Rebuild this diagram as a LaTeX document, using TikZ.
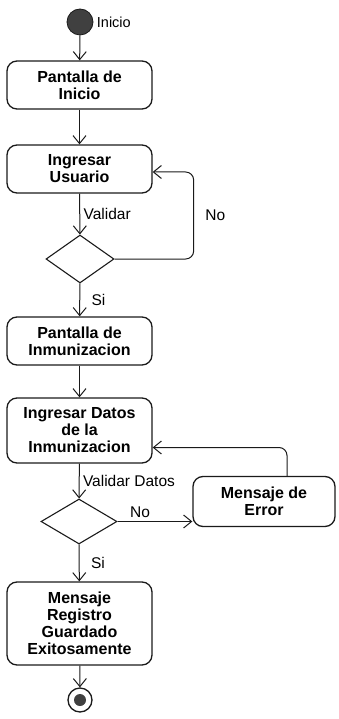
\documentclass[tikz,border=0pt]{standalone}
\usepackage{fontspec}
\setmainfont{Liberation Sans}
\usetikzlibrary{arrows.meta,positioning,calc,shapes.geometric}
\definecolor{lineC}  {HTML}{1A1A1A}
\definecolor{startC} {HTML}{404040}
\tikzset{
  >={Straight Barb[length=8pt,width=13pt,line width=1pt]},
  actBox/.style={draw=lineC,line width=1.3pt,rounded corners=10pt,
    align=center,font=\fontsize{16}{17}\selectfont\bfseries,
    minimum width=145pt,inner sep=1pt},
  decision/.style={draw=lineC,diamond,line width=1.1pt,inner sep=0pt},
  flowLbl/.style={font=\fontsize{15.5}{17}\selectfont},
  flow/.style={->,draw=lineC,line width=1pt},
}

\begin{document}
\begin{tikzpicture}[x=1pt,y=-1pt]
\useasboundingbox (0,0) rectangle (338,719);
% nodo inicial
\node[circle,fill=startC,draw=lineC,line width=0.8pt,minimum size=26pt,inner sep=0pt] (start) at (80,22) {};
\node[flowLbl,font=\fontsize{14.5}{16}\selectfont,right=0pt of start] (startLbl) {Inicio};
% actividades
\node[actBox,minimum height=48pt] (pantInicio) at (79.5,85) {Pantalla de\\Inicio};
\node[actBox,minimum height=48pt] (ingUsuario) at (79.5,169) {Ingresar\\Usuario};
\node[decision,minimum width=68pt,minimum height=48pt] (decUsuario) at (80,259) {};
\node[actBox,minimum height=48pt] (pantInmu) at (79.5,341) {Pantalla de\\Inmunizacion};
\node[actBox,minimum height=65pt] (ingDatos) at (79.5,430.5) {Ingresar Datos\\de la\\Inmunizacion};
\node[decision,minimum width=76pt,minimum height=45pt] (decDatos) at (79,521.5) {};
\node[actBox,minimum width=142pt,minimum height=50pt] (msgError) at (264,501.5) {Mensaje de\\Error};
\node[actBox,minimum height=83pt] (msgExito) at (79.5,623.5) {Mensaje\\Registro\\Guardado\\Exitosamente};
% nodo final
\node[circle,draw=lineC,line width=1.3pt,fill=white,minimum size=24pt,inner sep=0pt] (fin) at (80,700) {};
\node[circle,fill=startC,minimum size=12pt,inner sep=0pt] (finIn) at (fin) {};
% flujos
\draw[flow] (start) -- (pantInicio);
\draw[flow] (pantInicio) -- (ingUsuario);
\draw[flow] (ingUsuario) -- node[flowLbl,right] {Validar} (decUsuario);
\draw[flow,rounded corners=8pt] (decUsuario.east) -| ([xshift=41pt,yshift=-3pt]ingUsuario.east)
  node[flowLbl,pos=0.75,right=8pt] {No} -- ([yshift=-3pt]ingUsuario.east);
\draw[flow] (decUsuario) -- node[flowLbl,right=8pt] {Si} (pantInmu);
\draw[flow] (pantInmu) -- (ingDatos);
\draw[flow] (ingDatos) -- node[flowLbl,right] {Validar Datos} (decDatos);
\draw[flow] (decDatos.east) -- node[flowLbl,above,pos=0.3] {No} (decDatos.east -| msgError.west);
\draw[flow,rounded corners=8pt] ([xshift=23pt]msgError.north) |- ([yshift=-17pt]ingDatos.east);
\draw[flow] (decDatos) -- node[flowLbl,right=8pt] {Si} (msgExito);
\draw[flow] (msgExito) -- (fin);
\end{tikzpicture}
\end{document}
